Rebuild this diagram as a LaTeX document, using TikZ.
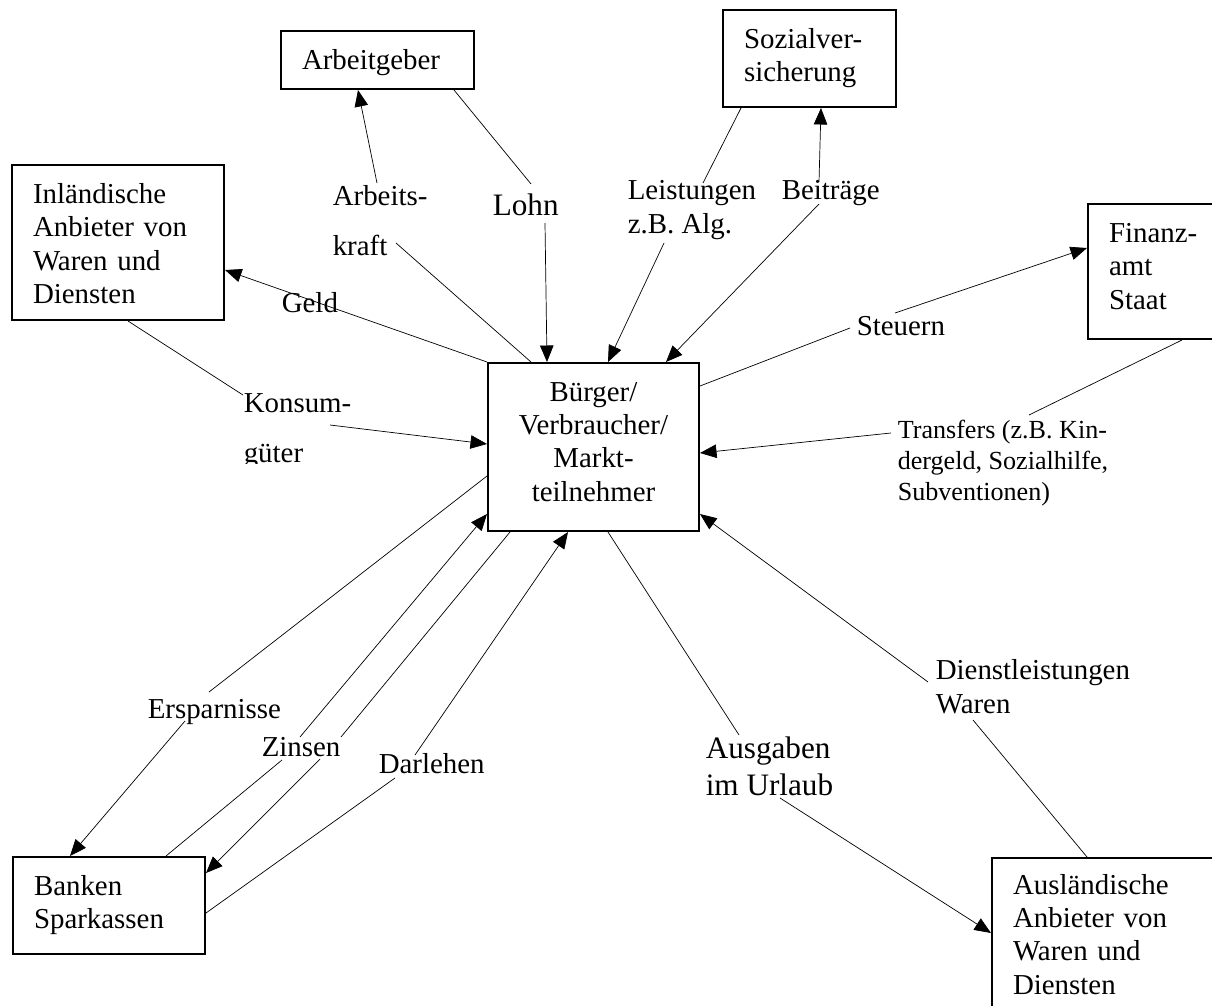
\documentclass[tikz,border=0pt]{standalone}
\usepackage{fontspec}
\setmainfont{Liberation Serif}
\usetikzlibrary{arrows.meta}
\pgfdeclarelayer{bg}
\pgfsetlayers{bg,main}
\tikzset{
  box/.style={draw, line width=1.15pt, anchor=north west, inner xsep=0.42cm,
    inner ysep=0pt, text height=0.77cm, align=left},
  lab/.style={anchor=base west, inner sep=0pt, align=left},
  wide/.style={font=\fontsize{16.44pt}{28pt}\selectfont},
  big/.style={font=\fontsize{17.75pt}{21pt}\selectfont},
  small/.style={font=\fontsize{14.85pt}{17.6pt}\selectfont},
  arr/.style={-{Triangle[length=0.33cm,width=0.27cm]}}
}
\begin{document}
\begin{tikzpicture}[font=\fontsize{16.44pt}{19pt}\selectfont, line width=0.9pt]
        \useasboundingbox (0cm,0cm) rectangle (24.24cm,-20.12cm);
        % boxes
        \node (ag) [box, text width=3.02cm, text depth=0.39cm] at (5.60cm,-0.60cm) {Arbeitgeber};
        \node (sv) [box, text width=2.62cm, text depth=1.17cm] at (14.44cm,-0.18cm) {Sozialver-\\sicherung};
        \node (inl) [box, text width=3.40cm, text depth=2.33cm] at (0.22cm,-3.28cm) {Inländische\\Anbieter von\\Waren und\\Diensten};
        \node (fa) [box, text width=2.02cm, text depth=1.93cm] at (21.74cm,-4.06cm) {Finanz-\\amt\\Staat};
        \node (bv) [box, align=center, text width=3.38cm, text height=0.76cm, text depth=2.60cm] at (9.74cm,-7.24cm) {Bürger/\\Verbraucher/\\Markt-\\teilnehmer};
        \node (bk) [box, text width=3.00cm, text depth=1.17cm] at (0.24cm,-17.12cm) {Banken\\Sparkassen};
        \node (ausl) [box, text width=3.94cm, text height=0.72cm, text depth=2.74cm] at (19.82cm,-17.14cm) {Ausländische\\Anbieter von\\Waren und\\Diensten};
        % labels (placed at the baseline of their last line)
        \node (kraft) [lab, wide] at (6.64cm,-5.10cm) {Arbeits-\\kraft};
        \node (lohn) [lab, big] at (9.84cm,-4.32cm) {Lohn};
        \node (leist) [lab] at (12.54cm,-4.66cm) {Leistungen\\z.B. Alg.};
        \node (beitr) [lab] at (15.62cm,-4.00cm) {Beiträge};
        \node (geld) [lab] at (5.62cm,-6.24cm) {Geld};
        \begin{scope}
                \clip (4.50cm,-7.60cm) rectangle (7.50cm,-9.26cm);
                \node (konsum) [lab, wide] at (4.86cm,-9.24cm) {Konsum-\\güter};
        \end{scope}
        \node (steuern) [lab] at (17.12cm,-6.70cm) {Steuern};
        \node (transfers) [lab, small] at (17.94cm,-10.00cm) {Transfers (z.B. Kin-\\dergeld, Sozialhilfe,\\Subventionen)};
        \node (erspar) [lab] at (2.94cm,-14.36cm) {Ersparnisse};
        \node (zinsen) [lab] at (5.22cm,-15.12cm) {Zinsen};
        \node (darlehen) [lab] at (7.56cm,-15.46cm) {Darlehen};
        \node (ausgaben) [lab, big] at (14.10cm,-15.90cm) {Ausgaben\\im Urlaub};
        \node (dienst) [lab] at (18.70cm,-14.26cm) {Dienstleistungen\\Waren};
        \begin{pgfonlayer}{bg}
                \draw ([xshift=0.88cm]bv.north west) edge ([shift={(1.28cm,0.24cm)}]kraft.base west);
                \draw ([shift={(0.90cm,1.44cm)}]kraft.base west) edge [arr] ([xshift=1.56cm]ag.south west);
                \draw ([xshift=3.48cm]ag.south west) edge ([shift={(0.78cm,0.64cm)}]lohn.base west);
                \draw ([shift={(1.06cm,-0.14cm)}]lohn.base west) edge [arr] ([xshift=1.20cm]bv.north west);
                \draw ([xshift=0.38cm]sv.south west) edge ([shift={(1.52cm,1.00cm)}]leist.base west);
                \draw ([shift={(0.74cm,-0.20cm)}]leist.base west) edge [arr] ([xshift=2.42cm]bv.north west);
                \draw ([shift={(0.76cm,0.36cm)}]beitr.base west) edge [arr] ([xshift=1.98cm]sv.south west);
                \draw ([shift={(0.76cm,-0.08cm)}]beitr.base west) edge [arr] ([xshift=3.58cm]bv.north west);
                \draw (bv.north west) edge [arr] ([yshift=-2.12cm]inl.north east);
                \draw ([xshift=2.34cm]inl.south west) edge ([yshift=1.34cm]konsum.base west);
                \draw ([shift={(1.74cm,0.74cm)}]konsum.base west) edge [arr] ([yshift=-1.64cm]bv.north west);
                \draw ([yshift=-0.48cm]bv.north east) edge ([shift={(-0.12cm,0.14cm)}]steuern.base west);
                \draw ([shift={(0.78cm,0.44cm)}]steuern.base west) edge [arr] ([yshift=-0.90cm]fa.north west);
                \draw ([xshift=1.90cm]fa.south west) edge ([shift={(2.64cm,1.70cm)}]transfers.base west);
                \draw ([shift={(-0.12cm,1.34cm)}]transfers.base west) edge [arr] ([yshift=-1.82cm]bv.north east);
                \draw ([yshift=-2.28cm]bv.north west) edge ([shift={(1.24cm,0.52cm)}]erspar.base west);
                \draw ([shift={(0.76cm,-0.06cm)}]erspar.base west) edge [arr] ([xshift=1.16cm]bk.north west);
                \draw ([xshift=3.08cm]bk.north west) edge ([shift={(0.42cm,-0.08cm)}]zinsen.base west);
                \draw ([shift={(0.78cm,0.38cm)}]zinsen.base west) edge [arr] ([yshift=0.36cm]bv.south west);
                \draw ([xshift=0.46cm]bv.south west) edge ([shift={(1.60cm,0.38cm)}]zinsen.base west);
                \draw ([shift={(1.18cm,-0.06cm)}]zinsen.base west) edge [arr] ([yshift=-0.34cm]bk.north east);
                \draw ([yshift=-1.14cm]bk.north east) edge ([shift={(0.34cm,-0.10cm)}]darlehen.base west);
                \draw ([shift={(0.74cm,0.36cm)}]darlehen.base west) edge [arr] ([xshift=1.62cm]bv.south west);
                \draw ([xshift=2.42cm]bv.south west) edge ([shift={(0.68cm,1.20cm)}]ausgaben.base west);
                \draw ([shift={(1.50cm,-0.06cm)}]ausgaben.base west) edge [arr] ([yshift=-1.52cm]ausl.north west);
                \draw ([xshift=1.92cm]ausl.north west) edge ([shift={(0.76cm,-0.14cm)}]dienst.base west);
                \draw ([shift={(-0.14cm,0.62cm)}]dienst.base west) edge [arr] ([yshift=0.36cm]bv.south east);
        \end{pgfonlayer}
\end{tikzpicture}
\end{document}
